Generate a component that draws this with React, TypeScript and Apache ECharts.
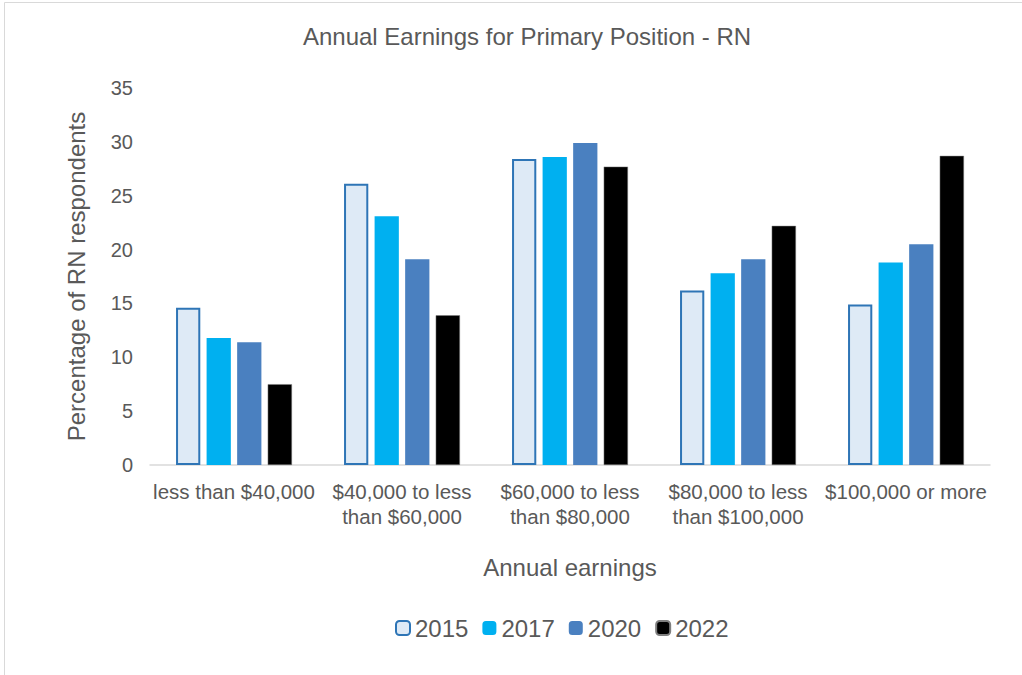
import React, { useEffect, useRef } from "react";
import * as echarts from "echarts";

const categories = [
  "less than $40,000",
  "$40,000 to less\nthan $60,000",
  "$60,000 to less\nthan $80,000",
  "$80,000 to less\nthan $100,000",
  "$100,000 or more",
];
const years = ["2015", "2017", "2020", "2022"];
const v2015 = [14.6, 26.1, 28.4, 16.2, 14.9];
const v2017 = [11.8, 23.1, 28.6, 17.8, 18.8];
const v2020 = [11.4, 19.1, 29.9, 19.1, 20.5];
const v2022 = [7.5, 13.9, 27.7, 22.2, 28.7];
const yTicks = [0, 5, 10, 15, 20, 25, 30, 35];

const FONT = "Liberation Sans, Arial, sans-serif";
const GREY = "#595959";

export default function App() {
  const ref = useRef<HTMLDivElement>(null);
  useEffect(() => {
    if (!ref.current) return;
    const chart = echarts.init(ref.current, undefined, { renderer: "svg" });
    const styles = [
      { color: "#deeaf6", borderColor: "#2e75b6", borderWidth: 2 },
      { color: "#00b0f0", borderColor: "#ffffff", borderWidth: 0 },
      { color: "#4a80c0", borderColor: "#ffffff", borderWidth: 0 },
      { color: "#000000", borderColor: "#7f7f7f", borderWidth: 0.5 },
    ];
    const data = [v2015, v2017, v2020, v2022];
    chart.setOption({
      animation: false,
      backgroundColor: "#ffffff",
      textStyle: { fontFamily: FONT },
      title: {
        text: "Annual Earnings for Primary Position - RN",
        left: 522,
        textAlign: "center",
        top: 19,
        textStyle: { fontSize: 24, fontWeight: "normal", color: GREY, fontFamily: FONT },
      },
      graphic: [
        {
          type: "rect",
          shape: { x: 4.5, y: 2.5, width: 1040, height: 700 },
          style: { fill: "none", stroke: "#d9d9d9", lineWidth: 1 },
          silent: true,
        },
      ],
      legend: {
        top: 611,
        left: 390,
        itemWidth: 14,
        itemHeight: 14,
        itemGap: 14,
        textStyle: { fontSize: 24, color: GREY, fontFamily: FONT },
        data: years,
      },
      grid: { left: 150, right: 32, top: 88, bottom: 210 },
      xAxis: {
        type: "category",
        data: categories,
        name: "Annual earnings",
        nameLocation: "middle",
        nameGap: 90,
        nameTextStyle: { fontSize: 24, color: GREY, fontFamily: FONT },
        axisLine: { lineStyle: { color: "#d9d9d9", width: 1.5 } },
        axisTick: { show: false },
        axisLabel: {
          fontSize: 20.5,
          color: GREY,
          lineHeight: 25,
          margin: 14,
          interval: 0,
          fontFamily: FONT,
        },
      },
      yAxis: {
        type: "value",
        min: 0,
        max: 35,
        interval: 5,
        name: "Percentage of RN respondents",
        nameLocation: "middle",
        nameGap: 62,
        nameTextStyle: { fontSize: 24, color: GREY, fontFamily: FONT },
        axisLine: { show: false },
        axisTick: { show: false },
        splitLine: { show: false },
        axisLabel: {
          fontSize: 20,
          color: GREY,
          margin: 17,
          fontFamily: FONT,
          formatter: (v: number) => (yTicks.includes(v) ? String(v) : ""),
        },
      },
      series: years.map((y, i) => ({
        name: y,
        type: "bar",
        data: data[i],
        barGap: "26%",
        barCategoryGap: "31%",
        itemStyle: styles[i],
      })),
    });
    return () => chart.dispose();
  }, []);
  return (
    <div
      ref={ref}
      style={{ position: "absolute", left: 0, top: 0, width: 1022, height: 675 }}
    />
  );
}
